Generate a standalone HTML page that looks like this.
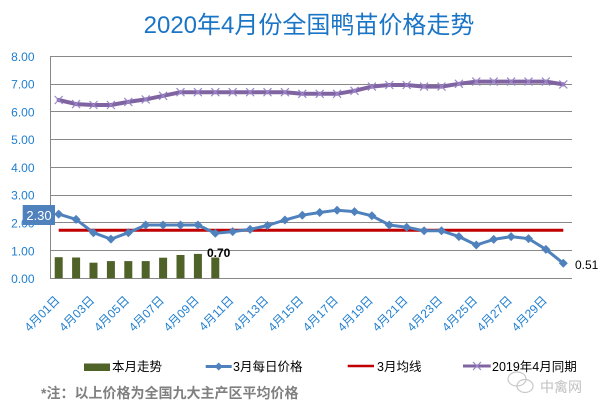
<!DOCTYPE html>
<html>
<head>
<meta charset="utf-8">
<style>
html,body{margin:0;padding:0;background:#fff;}
svg{display:block;}
text{font-family:"Liberation Sans","Noto Sans CJK SC",sans-serif;}
</style>
</head>
<body>
<svg width="603" height="413" viewBox="0 0 603 413" xmlns="http://www.w3.org/2000/svg">
<rect x="0" y="0" width="603" height="413" fill="#fff"/>
<!-- Title -->
<text x="309" y="33" text-anchor="middle" font-size="24" fill="#1a75c6">2020年4月份全国鸭苗价格走势</text>

<!-- Gridlines -->
<g stroke="#888" stroke-width="1">
<line x1="50" y1="56.5" x2="572" y2="56.5"/>
<line x1="50" y1="84.5" x2="572" y2="84.5"/>
<line x1="50" y1="111.5" x2="572" y2="111.5"/>
<line x1="50" y1="139.5" x2="572" y2="139.5"/>
<line x1="50" y1="167.5" x2="572" y2="167.5"/>
<line x1="50" y1="195.5" x2="572" y2="195.5"/>
<line x1="50" y1="222.5" x2="572" y2="222.5"/>
<line x1="50" y1="250.5" x2="572" y2="250.5"/>
<line x1="50" y1="278.5" x2="572" y2="278.5"/>
<line x1="50.5" y1="56" x2="50.5" y2="279"/>
</g>

<!-- Y labels -->
<g font-size="12" fill="#1f7ed0" text-anchor="end">
<text x="34.5" y="60.8">8.00</text>
<text x="34.5" y="88.6">7.00</text>
<text x="34.5" y="116.4">6.00</text>
<text x="34.5" y="144.2">5.00</text>
<text x="34.5" y="172">4.00</text>
<text x="34.5" y="199.7">3.00</text>
<text x="34.5" y="227.5">2.00</text>
<text x="34.5" y="255.3">1.00</text>
<text x="34.5" y="283.1">0.00</text>
</g>

<!-- Bars -->
<g fill="#4f6228">
<rect x="54.7" y="257.2" width="8" height="21.1"/>
<rect x="72.1" y="257.5" width="8" height="20.8"/>
<rect x="89.5" y="262.7" width="8" height="15.6"/>
<rect x="106.9" y="261.1" width="8" height="17.2"/>
<rect x="124.3" y="261.1" width="8" height="17.2"/>
<rect x="141.7" y="261.1" width="8" height="17.2"/>
<rect x="159.1" y="257.7" width="8" height="20.6"/>
<rect x="176.5" y="255.0" width="8" height="23.3"/>
<rect x="193.9" y="253.9" width="8" height="24.4"/>
<rect x="211.3" y="257.5" width="8" height="20.8"/>
</g>

<!-- Red average line -->
<line x1="58.7" y1="230.2" x2="563.3" y2="230.2" stroke="#c00000" stroke-width="3"/>

<!-- Purple 2019 line -->
<polyline fill="none" stroke="#8064a2" stroke-width="4" stroke-linejoin="round" stroke-linecap="round"
points="58.7,100.0 76.1,104.1 93.5,105.0 110.9,105.0 128.3,101.9 145.7,99.4 163.1,95.8 180.5,92.2 197.9,92.2 215.3,92.2 232.7,92.2 250.1,92.2 267.5,92.2 284.9,92.2 302.3,93.8 319.7,93.8 337.1,93.8 354.5,90.8 371.9,86.6 389.3,85.0 406.7,85.0 424.1,86.6 441.5,86.6 458.9,83.8 476.3,81.6 493.7,81.6 511.1,81.6 528.5,81.6 545.9,81.6 563.3,84.4"/>
<g stroke="#9a86c8" stroke-width="1.2" fill="none">
<path d="M54.7,96 l8,8 M54.7,104 l8,-8"/>
<path d="M72.1,100.1 l8,8 M72.1,108.1 l8,-8"/>
<path d="M89.5,101 l8,8 M89.5,109 l8,-8"/>
<path d="M106.9,101 l8,8 M106.9,109 l8,-8"/>
<path d="M124.3,97.9 l8,8 M124.3,105.9 l8,-8"/>
<path d="M141.7,95.4 l8,8 M141.7,103.4 l8,-8"/>
<path d="M159.1,91.8 l8,8 M159.1,99.8 l8,-8"/>
<path d="M176.5,88.2 l8,8 M176.5,96.2 l8,-8"/>
<path d="M193.9,88.2 l8,8 M193.9,96.2 l8,-8"/>
<path d="M211.3,88.2 l8,8 M211.3,96.2 l8,-8"/>
<path d="M228.7,88.2 l8,8 M228.7,96.2 l8,-8"/>
<path d="M246.1,88.2 l8,8 M246.1,96.2 l8,-8"/>
<path d="M263.5,88.2 l8,8 M263.5,96.2 l8,-8"/>
<path d="M280.9,88.2 l8,8 M280.9,96.2 l8,-8"/>
<path d="M298.3,89.8 l8,8 M298.3,97.8 l8,-8"/>
<path d="M315.7,89.8 l8,8 M315.7,97.8 l8,-8"/>
<path d="M333.1,89.8 l8,8 M333.1,97.8 l8,-8"/>
<path d="M350.5,86.8 l8,8 M350.5,94.8 l8,-8"/>
<path d="M367.9,82.6 l8,8 M367.9,90.6 l8,-8"/>
<path d="M385.3,81 l8,8 M385.3,89 l8,-8"/>
<path d="M402.7,81 l8,8 M402.7,89 l8,-8"/>
<path d="M420.1,82.6 l8,8 M420.1,90.6 l8,-8"/>
<path d="M437.5,82.6 l8,8 M437.5,90.6 l8,-8"/>
<path d="M454.9,79.8 l8,8 M454.9,87.8 l8,-8"/>
<path d="M472.3,77.6 l8,8 M472.3,85.6 l8,-8"/>
<path d="M489.7,77.6 l8,8 M489.7,85.6 l8,-8"/>
<path d="M507.1,77.6 l8,8 M507.1,85.6 l8,-8"/>
<path d="M524.5,77.6 l8,8 M524.5,85.6 l8,-8"/>
<path d="M541.9,77.6 l8,8 M541.9,85.6 l8,-8"/>
<path d="M559.3,80.4 l8,8 M559.3,88.4 l8,-8"/>
</g>

<!-- Blue March line -->
<polyline fill="none" stroke="#4f81bd" stroke-width="3" stroke-linejoin="round"
points="58.7,214.1 76.1,219.4 93.5,232.7 110.9,239.1 128.3,232.7 145.7,225.0 163.1,225.0 180.5,225.0 197.9,225.0 215.3,233.3 232.7,231.6 250.1,229.4 267.5,225.5 284.9,220.0 302.3,215.2 319.7,212.5 337.1,210.2 354.5,211.6 371.9,215.8 389.3,225.0 406.7,227.2 424.1,230.8 441.5,230.8 458.9,236.6 476.3,245.0 493.7,239.4 511.1,236.6 528.5,238.6 545.9,249.4 563.3,263.3"/>
<g fill="#4f81bd">
<path d="M58.7,209.6 l4.5,4.5 l-4.5,4.5 l-4.5,-4.5z"/>
<path d="M76.1,214.9 l4.5,4.5 l-4.5,4.5 l-4.5,-4.5z"/>
<path d="M93.5,228.2 l4.5,4.5 l-4.5,4.5 l-4.5,-4.5z"/>
<path d="M110.9,234.6 l4.5,4.5 l-4.5,4.5 l-4.5,-4.5z"/>
<path d="M128.3,228.2 l4.5,4.5 l-4.5,4.5 l-4.5,-4.5z"/>
<path d="M145.7,220.5 l4.5,4.5 l-4.5,4.5 l-4.5,-4.5z"/>
<path d="M163.1,220.5 l4.5,4.5 l-4.5,4.5 l-4.5,-4.5z"/>
<path d="M180.5,220.5 l4.5,4.5 l-4.5,4.5 l-4.5,-4.5z"/>
<path d="M197.9,220.5 l4.5,4.5 l-4.5,4.5 l-4.5,-4.5z"/>
<path d="M215.3,228.8 l4.5,4.5 l-4.5,4.5 l-4.5,-4.5z"/>
<path d="M232.7,227.1 l4.5,4.5 l-4.5,4.5 l-4.5,-4.5z"/>
<path d="M250.1,224.9 l4.5,4.5 l-4.5,4.5 l-4.5,-4.5z"/>
<path d="M267.5,221.0 l4.5,4.5 l-4.5,4.5 l-4.5,-4.5z"/>
<path d="M284.9,215.5 l4.5,4.5 l-4.5,4.5 l-4.5,-4.5z"/>
<path d="M302.3,210.7 l4.5,4.5 l-4.5,4.5 l-4.5,-4.5z"/>
<path d="M319.7,208.0 l4.5,4.5 l-4.5,4.5 l-4.5,-4.5z"/>
<path d="M337.1,205.7 l4.5,4.5 l-4.5,4.5 l-4.5,-4.5z"/>
<path d="M354.5,207.1 l4.5,4.5 l-4.5,4.5 l-4.5,-4.5z"/>
<path d="M371.9,211.3 l4.5,4.5 l-4.5,4.5 l-4.5,-4.5z"/>
<path d="M389.3,220.5 l4.5,4.5 l-4.5,4.5 l-4.5,-4.5z"/>
<path d="M406.7,222.7 l4.5,4.5 l-4.5,4.5 l-4.5,-4.5z"/>
<path d="M424.1,226.3 l4.5,4.5 l-4.5,4.5 l-4.5,-4.5z"/>
<path d="M441.5,226.3 l4.5,4.5 l-4.5,4.5 l-4.5,-4.5z"/>
<path d="M458.9,232.1 l4.5,4.5 l-4.5,4.5 l-4.5,-4.5z"/>
<path d="M476.3,240.5 l4.5,4.5 l-4.5,4.5 l-4.5,-4.5z"/>
<path d="M493.7,234.9 l4.5,4.5 l-4.5,4.5 l-4.5,-4.5z"/>
<path d="M511.1,232.1 l4.5,4.5 l-4.5,4.5 l-4.5,-4.5z"/>
<path d="M528.5,234.1 l4.5,4.5 l-4.5,4.5 l-4.5,-4.5z"/>
<path d="M545.9,244.9 l4.5,4.5 l-4.5,4.5 l-4.5,-4.5z"/>
<path d="M563.3,258.8 l4.5,4.5 l-4.5,4.5 l-4.5,-4.5z"/>
</g>

<!-- Data labels -->
<rect x="22.7" y="205" width="32.3" height="20" fill="#4f81bd"/>
<text x="39" y="220" text-anchor="middle" font-size="13" fill="#fff">2.30</text>
<text x="207" y="257" font-size="12" font-weight="bold" fill="#000">0.70</text>
<text x="575" y="269" font-size="12" fill="#000">0.51</text>

<!-- X labels -->
<g font-size="12" fill="#1f7ed0" text-anchor="end">
<text transform="translate(60.5,301) rotate(-45)">4月01日</text>
<text transform="translate(95.3,301) rotate(-45)">4月03日</text>
<text transform="translate(130.1,301) rotate(-45)">4月05日</text>
<text transform="translate(164.9,301) rotate(-45)">4月07日</text>
<text transform="translate(199.7,301) rotate(-45)">4月09日</text>
<text transform="translate(234.5,301) rotate(-45)">4月11日</text>
<text transform="translate(269.3,301) rotate(-45)">4月13日</text>
<text transform="translate(304.1,301) rotate(-45)">4月15日</text>
<text transform="translate(338.9,301) rotate(-45)">4月17日</text>
<text transform="translate(373.7,301) rotate(-45)">4月19日</text>
<text transform="translate(408.5,301) rotate(-45)">4月21日</text>
<text transform="translate(443.3,301) rotate(-45)">4月23日</text>
<text transform="translate(478.1,301) rotate(-45)">4月25日</text>
<text transform="translate(512.9,301) rotate(-45)">4月27日</text>
<text transform="translate(547.7,301) rotate(-45)">4月29日</text>
</g>

<!-- Legend -->
<rect x="84" y="363.5" width="26" height="7.5" fill="#4f6228"/>
<text x="112" y="371" font-size="12.5" fill="#000">本月走势</text>
<line x1="205.7" y1="366.5" x2="231.7" y2="366.5" stroke="#4f81bd" stroke-width="3"/>
<path d="M218.7,362.5 l4,4 l-4,4 l-4,-4z" fill="#4f81bd"/>
<text x="233" y="371" font-size="12.5" fill="#000">3月每日价格</text>
<line x1="347.7" y1="366" x2="374" y2="366" stroke="#c00000" stroke-width="2.5"/>
<text x="377" y="371" font-size="12.5" fill="#000">3月均线</text>
<line x1="463" y1="366" x2="490.7" y2="366" stroke="#8064a2" stroke-width="3"/>
<path d="M473,362 l8,8 M473,370 l8,-8" stroke="#9a86c8" stroke-width="1.2"/>
<text x="492" y="371" font-size="12.5" fill="#000">2019年4月同期</text>

<!-- Footnote -->
<text x="41" y="398" font-size="14" font-weight="bold" fill="#808080">*注：以上价格为全国九大主产区平均价格</text>

<!-- Watermark -->
<g fill="none" stroke="#c8c8c8" stroke-width="1.2">
<ellipse cx="517" cy="379" rx="9" ry="7"/>
<ellipse cx="525" cy="386" rx="8" ry="6.5"/>
</g>
<text x="540" y="392" font-size="14" fill="#c0c0c0">中禽网</text>
</svg>
</body>
</html>
